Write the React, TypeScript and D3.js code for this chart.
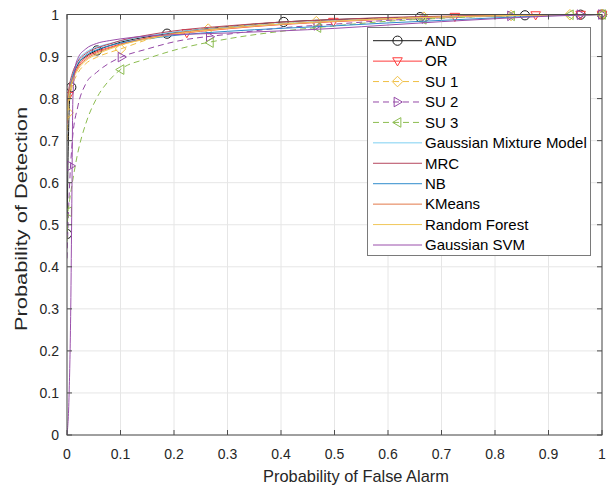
import React from 'react'
import * as d3 from 'd3'

// false-alarm grid shared by most curves
const pfGrid = [0, 0.002, 0.005, 0.01, 0.02, 0.035, 0.055, 0.08, 0.1, 0.15, 0.2, 0.3, 0.4, 0.5, 0.6, 0.7, 0.8, 0.9, 1]

const andPd = [0.478, 0.66, 0.8, 0.845, 0.88, 0.9, 0.914, 0.926, 0.934, 0.947, 0.957, 0.971, 0.982, 0.988, 0.992, 0.995, 0.997, 0.999, 1]
const orPd = [0.74, 0.8, 0.82, 0.845, 0.875, 0.897, 0.911, 0.922, 0.93, 0.944, 0.953, 0.966, 0.976, 0.983, 0.989, 0.994, 0.997, 0.999, 1]
const su1Pd = [0.7, 0.766, 0.8, 0.83, 0.86, 0.883, 0.898, 0.91, 0.918, 0.94, 0.955, 0.971, 0.979, 0.985, 0.991, 0.995, 0.997, 0.999, 1]
const su2Pd = [0.42, 0.5, 0.6, 0.7, 0.78, 0.835, 0.862, 0.885, 0.898, 0.918, 0.935, 0.953, 0.968, 0.977, 0.986, 0.992, 0.996, 0.999, 1]
const su3Pd = [0.46, 0.531, 0.56, 0.6, 0.67, 0.74, 0.8, 0.845, 0.869, 0.895, 0.915, 0.942, 0.96, 0.973, 0.984, 0.991, 0.996, 0.999, 1]
const gmmPd = [0.78, 0.8, 0.825, 0.855, 0.89, 0.91, 0.922, 0.931, 0.937, 0.949, 0.958, 0.969, 0.978, 0.985, 0.99, 0.994, 0.997, 0.999, 1]
const mrcPd = [0.78, 0.81, 0.835, 0.86, 0.888, 0.907, 0.92, 0.93, 0.938, 0.951, 0.961, 0.973, 0.982, 0.988, 0.993, 0.996, 0.998, 0.999, 1]
const nbPd = [0.76, 0.79, 0.82, 0.85, 0.882, 0.903, 0.916, 0.926, 0.932, 0.942, 0.95, 0.96, 0.967, 0.973, 0.98, 0.986, 0.992, 0.997, 1]
const kmPd = [0.77, 0.8, 0.822, 0.845, 0.872, 0.893, 0.908, 0.92, 0.928, 0.943, 0.955, 0.968, 0.977, 0.984, 0.99, 0.994, 0.997, 0.999, 1]
const rfPd = [0.76, 0.79, 0.815, 0.84, 0.868, 0.89, 0.905, 0.918, 0.927, 0.942, 0.953, 0.967, 0.977, 0.984, 0.99, 0.994, 0.997, 0.999, 1]

// Gaussian SVM has its own grid (near-vertical rise from the origin)
const svmPf = [0, 0.004, 0.007, 0.009, 0.011, 0.015, 0.02, 0.035, 0.055, 0.08, 0.1, 0.15, 0.2, 0.3, 0.4, 0.5, 0.6, 0.7, 0.8, 0.9, 1]
const svmPd = [0, 0.1, 0.3, 0.55, 0.8, 0.87, 0.895, 0.918, 0.931, 0.938, 0.942, 0.949, 0.952, 0.956, 0.961, 0.967, 0.975, 0.983, 0.99, 0.996, 1]

// where markers sit along the marked curves
const andMarks = [0, 0.008, 0.056, 0.187, 0.405, 0.66, 0.856, 0.96, 1]
const orMarks = [0.003, 0.224, 0.498, 0.725, 0.876, 0.96, 1]
const su1Marks = [0.002, 0.1, 0.264, 0.466, 0.667, 0.83, 0.94, 1]
const su2Marks = [0.007, 0.102, 0.267, 0.468, 0.67, 0.83, 0.96, 1]
const su3Marks = [0.002, 0.1, 0.267, 0.468, 0.665, 0.83, 0.94, 1]

const names = ['AND', 'OR', 'SU 1', 'SU 2', 'SU 3', 'Gaussian Mixture Model', 'MRC', 'NB', 'KMeans', 'Random Forest', 'Gaussian SVM']
const ticks = [0, 0.1, 0.2, 0.3, 0.4, 0.5, 0.6, 0.7, 0.8, 0.9, 1]

type Marker = 'o' | 'v' | 'd' | '>' | '<' | null
type Series = { name: string; pf: number[]; pd: number[]; color: string; dash: string | null; marker: Marker; marks: number[] }

const series: Series[] = [
  { name: names[0], pf: pfGrid, pd: andPd, color: '#1a1a1a', dash: null, marker: 'o', marks: andMarks },
  { name: names[1], pf: pfGrid, pd: orPd, color: '#ff3b3b', dash: null, marker: 'v', marks: orMarks },
  { name: names[2], pf: pfGrid, pd: su1Pd, color: '#f0bf45', dash: '6,4', marker: 'd', marks: su1Marks },
  { name: names[3], pf: pfGrid, pd: su2Pd, color: '#9448a6', dash: '6,4', marker: '>', marks: su2Marks },
  { name: names[4], pf: pfGrid, pd: su3Pd, color: '#8cbc50', dash: '6,4', marker: '<', marks: su3Marks },
  { name: names[5], pf: pfGrid, pd: gmmPd, color: '#7dd0f2', dash: null, marker: null, marks: [] },
  { name: names[6], pf: pfGrid, pd: mrcPd, color: '#b5475e', dash: null, marker: null, marks: [] },
  { name: names[7], pf: pfGrid, pd: nbPd, color: '#2f8ccc', dash: null, marker: null, marks: [] },
  { name: names[8], pf: pfGrid, pd: kmPd, color: '#e2784a', dash: null, marker: null, marks: [] },
  { name: names[9], pf: pfGrid, pd: rfPd, color: '#f1c75a', dash: null, marker: null, marks: [] },
  { name: names[10], pf: svmPf, pd: svmPd, color: '#9a4fab', dash: null, marker: null, marks: [] },
]

const FONT = '"Liberation Sans", Arial, Helvetica, sans-serif'
const TXT = '#262626'

function markerPath(m: Marker, x: number, y: number): string {
  const s = 4.8
  switch (m) {
    case 'v':
      return `M${x - s},${y - s * 0.7}L${x + s},${y - s * 0.7}L${x},${y + s}Z`
    case 'd':
      return `M${x},${y - s * 1.1}L${x + s * 1.1},${y}L${x},${y + s * 1.1}L${x - s * 1.1},${y}Z`
    case '>':
      return `M${x - s * 0.7},${y - s}L${x + s},${y}L${x - s * 0.7},${y + s}Z`
    case '<':
      return `M${x + s * 0.7},${y - s}L${x - s},${y}L${x + s * 0.7},${y + s}Z`
    default:
      return ''
  }
}

function MarkerShape({ m, x, y, color }: { m: Marker; x: number; y: number; color: string }) {
  if (!m) return null
  if (m === 'o') return <circle cx={x} cy={y} r={4.6} fill="none" stroke={color} strokeWidth={1} />
  return <path d={markerPath(m, x, y)} fill="none" stroke={color} strokeWidth={1} />
}

export default function App() {
  const W = 613
  const H = 488
  const left = 67
  const right = 602
  const top = 14.5
  const bottom = 435

  const x = d3.scaleLinear().domain([0, 1]).range([left, right])
  const y = d3.scaleLinear().domain([0, 1]).range([bottom, top])
  const fmt = d3.format('~g')

  const line = d3
    .line<[number, number]>()
    .x(d => x(d[0]))
    .y(d => y(d[1]))
    .curve(d3.curveMonotoneX)

  // legend layout
  const lgX = 367.5
  const lgY = 27.5
  const lgW = 223
  const lgRow = 20.43
  const lgH = 228

  return (
    <svg width={W} height={H} style={{ position: 'absolute', left: 0, top: 0, background: '#fff' }} fontFamily={FONT}>
      <rect x={0} y={0} width={W} height={H} fill="#fff" />

      {/* grid */}
      {ticks.map(t => (
        <g key={'g' + t}>
          <line x1={x(t)} x2={x(t)} y1={top} y2={bottom} stroke="#e6e6e6" strokeWidth={1} />
          <line x1={left} x2={right} y1={y(t)} y2={y(t)} stroke="#e6e6e6" strokeWidth={1} />
        </g>
      ))}

      {/* curves */}
      <defs>
        <clipPath id="plotClip">
          <rect x={left} y={top - 8} width={right - left + 8} height={bottom - top + 8} />
        </clipPath>
      </defs>
      <g clipPath="url(#plotClip)">
        {series.map(s => {
          const pts = s.pf.map((p, i) => [p, s.pd[i]] as [number, number])
          const interp = d3.scaleLinear().domain(s.pf).range(s.pd)
          return (
            <g key={s.name}>
              <path d={line(pts) || ''} fill="none" stroke={s.color} strokeWidth={1} strokeDasharray={s.dash || undefined} />
              {s.marks.map((p, i) => (
                <MarkerShape key={i} m={s.marker} x={x(p)} y={y(interp(p))} color={s.color} />
              ))}
            </g>
          )
        })}
      </g>

      {/* axes frame and ticks */}
      <rect x={left} y={top} width={right - left} height={bottom - top} fill="none" stroke="#4d4d4d" strokeWidth={1} />
      {ticks.map(t => (
        <g key={'t' + t} stroke="#4d4d4d" strokeWidth={1}>
          <line x1={x(t)} x2={x(t)} y1={bottom} y2={bottom - 5} />
          <line x1={x(t)} x2={x(t)} y1={top} y2={top + 5} />
          <line x1={left} x2={left + 5} y1={y(t)} y2={y(t)} />
          <line x1={right} x2={right - 5} y1={y(t)} y2={y(t)} />
        </g>
      ))}

      {/* tick labels */}
      {ticks.map(t => (
        <text key={'xl' + t} x={x(t)} y={458.5} textAnchor="middle" fontSize={14} fill={TXT}>
          {fmt(t)}
        </text>
      ))}
      {ticks.map(t => (
        <text key={'yl' + t} x={left - 8} y={y(t) + 5} textAnchor="end" fontSize={14} fill={TXT}>
          {fmt(t)}
        </text>
      ))}

      {/* axis titles */}
      <text x={356} y={481.5} textAnchor="middle" fontSize={16.4} fill={TXT}>
        Probability of False Alarm
      </text>
      <text
        transform="translate(26.5,219) rotate(-90)"
        textAnchor="middle"
        fontSize={16.4}
        fill={TXT}
        textLength={224}
        lengthAdjust="spacingAndGlyphs"
      >
        Probability of Detection
      </text>

      {/* legend */}
      <rect x={lgX} y={lgY} width={lgW} height={lgH} fill="#fff" stroke="#7a7a7a" strokeWidth={1} />
      {series.map((s, i) => {
        const cy = lgY + 13.2 + i * lgRow
        return (
          <g key={'lg' + s.name}>
            <line x1={373} x2={422} y1={cy} y2={cy} stroke={s.color} strokeWidth={1} strokeDasharray={s.dash || undefined} />
            <MarkerShape m={s.marker} x={397.5} y={cy} color={s.color} />
            <text x={425} y={cy + 5.3} fontSize={15} fill="#000">
              {s.name}
            </text>
          </g>
        )
      })}
    </svg>
  )
}
